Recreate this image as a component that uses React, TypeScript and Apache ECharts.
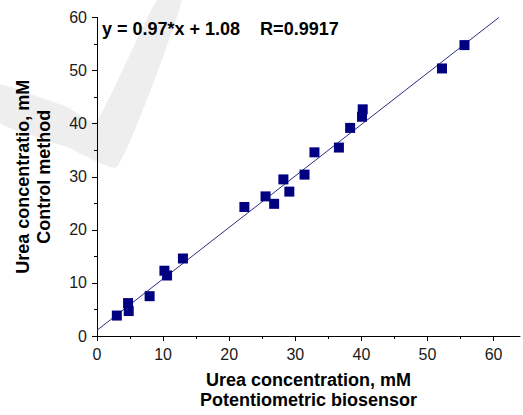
import React, { useEffect, useRef } from "react";
import * as echarts from "echarts";

const xValues = [3.0, 4.7, 4.8, 7.96, 10.2, 10.6, 13.0, 22.3, 25.5, 26.8, 28.2, 29.1, 31.4, 32.9, 36.6, 38.3, 40.1, 40.2, 52.2, 55.6];
const yValues = [3.85, 6.2, 4.7, 7.5, 12.3, 11.4, 14.6, 24.3, 26.3, 24.9, 29.5, 27.2, 30.4, 34.6, 35.5, 39.2, 41.3, 42.7, 50.4, 54.8];
const fitLine = [
  [0, 1.08],
  [60.8, 60],
];
const majorTicks = [0, 10, 20, 30, 40, 50, 60];
const minorTicksX = [5, 15, 25, 35, 45, 55];
const equationText = "y = 0.97*x + 1.08    R=0.9917";
const xTitle = "Urea concentration, mM\nPotentiometric biosensor";
const yTitle = "Urea concentratio, mM\nControl method";

const FONT = "Liberation Sans, Arial, Helvetica, sans-serif";

export default function App() {
  const ref = useRef<HTMLDivElement>(null);
  useEffect(() => {
    if (!ref.current) return;
    const chart = echarts.init(ref.current, undefined, { renderer: "svg" });
    const points = xValues.map((x, i) => [x, yValues[i]]);
    chart.setOption({
      animation: false,
      backgroundColor: "#ffffff",
      textStyle: { fontFamily: FONT },
      title: {
        text: equationText,
        left: 102,
        top: 20,
        padding: 0,
        textStyle: { fontFamily: FONT, fontSize: 18, fontWeight: "bold", color: "#000" },
      },
      graphic: [
        {
          type: "polygon",
          z: -10,
          silent: true,
          shape: {
            points: [
              [0, 85],
              [33, 95],
              [67, 107],
              [96, 122],
              [157, 0],
              [182, 0],
              [117, 167],
              [67, 147],
              [0, 123],
            ],
            smooth: 0.15,
          },
          style: { fill: "#eeeeee" },
        },
      ],
      grid: { left: 97, right: 3, top: 17.5, bottom: 78.5, containLabel: false },
      xAxis: [
        {
          type: "value",
          min: 0,
          max: 64,
          interval: 10,
          name: xTitle,
          nameLocation: "middle",
          nameGap: 34,
          nameTextStyle: { fontFamily: FONT, fontSize: 18, fontWeight: "bold", color: "#000", lineHeight: 20 },
          axisLine: { show: true, onZero: false, lineStyle: { color: "#000", width: 1 } },
          axisTick: { show: true, length: 5, customValues: majorTicks, lineStyle: { color: "#000" } },
          axisLabel: { customValues: majorTicks, margin: 10, fontFamily: FONT, fontSize: 16, color: "#1a1a1a" },
          splitLine: { show: false },
        },
        {
          type: "value",
          min: 0,
          max: 64,
          position: "bottom",
          axisLine: { show: false },
          axisTick: { show: true, length: 3, customValues: minorTicksX, lineStyle: { color: "#000" } },
          axisLabel: { show: false },
          splitLine: { show: false },
        },
      ],
      yAxis: {
        type: "value",
        min: 0,
        max: 60,
        interval: 10,
        name: yTitle,
        nameLocation: "middle",
        nameGap: 43,
        nameTextStyle: { fontFamily: FONT, fontSize: 18, fontWeight: "bold", color: "#000", lineHeight: 21, padding: [0, 0, 0, 0] },
        axisLine: { show: true, onZero: false, lineStyle: { color: "#000", width: 1 } },
        axisTick: { show: true, length: 5, lineStyle: { color: "#000" } },
        minorTick: { show: true, splitNumber: 2, length: 3, lineStyle: { color: "#000" } },
        axisLabel: { margin: 10, fontFamily: FONT, fontSize: 16, color: "#1a1a1a" },
        splitLine: { show: false },
        minorSplitLine: { show: false },
      },
      series: [
        {
          type: "line",
          data: fitLine,
          symbol: "none",
          lineStyle: { color: "#2b2b85", width: 1 },
          z: 2,
        },
        {
          type: "scatter",
          data: points,
          symbol: "rect",
          symbolSize: 10,
          itemStyle: { color: "#000080", opacity: 1 },
          z: 3,
        },
      ],
    });
    return () => chart.dispose();
  }, []);
  return <div ref={ref} style={{ width: 523, height: 415, position: "absolute", left: 0, top: 0 }} />;
}
